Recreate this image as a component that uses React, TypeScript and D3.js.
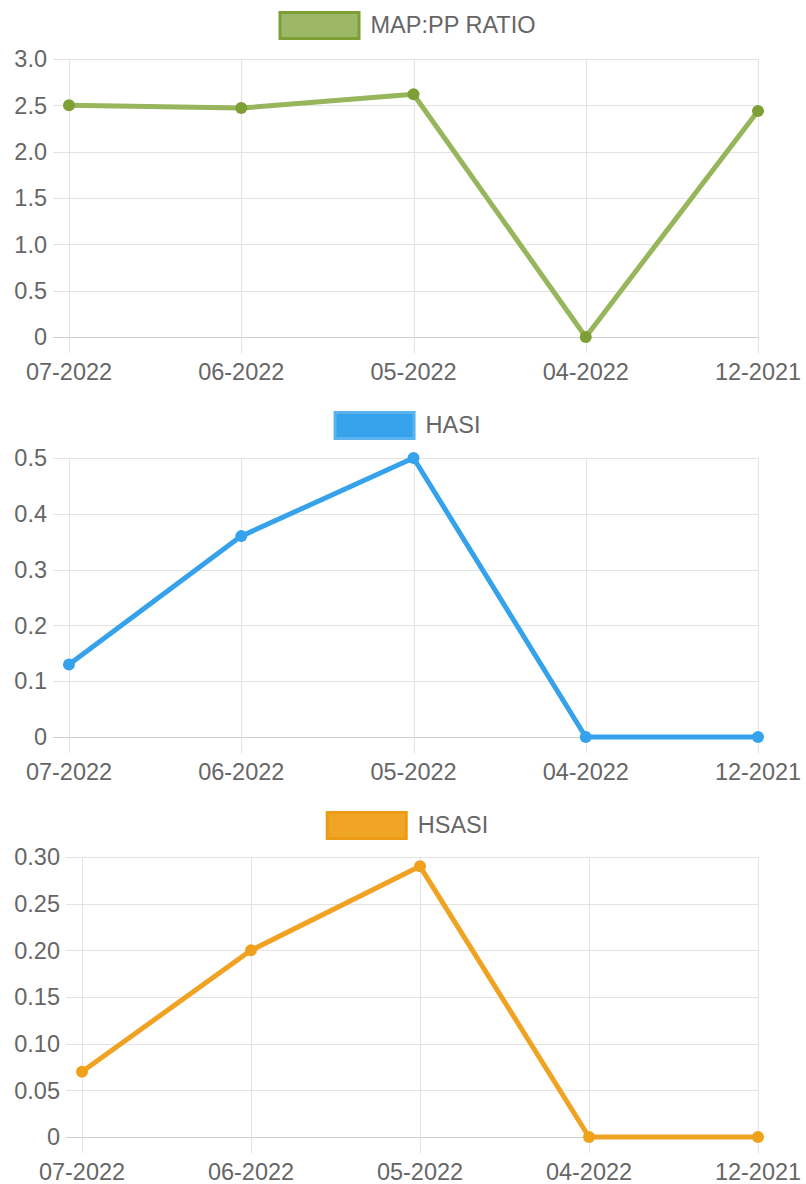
import React, { useEffect, useRef } from "react";
import * as d3 from "d3";

// chart data
const months = ["07-2022", "06-2022", "05-2022", "04-2022", "12-2021"];
const mapPpRatio = [2.5, 2.47, 2.62, 0, 2.44];
const hasi = [0.13, 0.36, 0.5, 0, 0];
const hsasi = [0.07, 0.2, 0.29, 0, 0];

const mapTicks = [0, 0.5, 1.0, 1.5, 2.0, 2.5, 3.0];
const hasiTicks = [0, 0.1, 0.2, 0.3, 0.4, 0.5];
const hsasiTicks = [0, 0.05, 0.1, 0.15, 0.2, 0.25, 0.3];

const W = 806;
const H = 1184;
const FONT = "'Liberation Sans', Arial, sans-serif";
const FS = 23.5;

function App() {
    const ref = useRef<SVGSVGElement | null>(null);

    useEffect(() => {
        const svg = d3.select(ref.current);
        svg.selectAll("*").remove();

        const panels = [
            {
                label: "MAP:PP RATIO", values: mapPpRatio, ticks: mapTicks, fmt: (v: number) => v === 0 ? "0" : v.toFixed(1),
                top: 0, plotTop: 59, plotBottom: 337, left: 69,
                line: "#97b55a", point: "#7d9f35", box: "#9cb866", boxStroke: "#7d9f35"
            },
            {
                label: "HASI", values: hasi, ticks: hasiTicks, fmt: (v: number) => v === 0 ? "0" : v.toFixed(1),
                top: 400, plotTop: 458, plotBottom: 737, left: 69,
                line: "#36a2eb", point: "#36a2eb", box: "#36a2eb", boxStroke: "#5ab3ef"
            },
            {
                label: "HSASI", values: hsasi, ticks: hsasiTicks, fmt: (v: number) => v === 0 ? "0" : v.toFixed(2),
                top: 800, plotTop: 857, plotBottom: 1137, left: 82,
                line: "#f0a323", point: "#f0a11c", box: "#f0a526", boxStroke: "#eb9b14"
            }
        ];

        const right = 758;

        panels.forEach(p => {
            const g = svg.append("g");

            const x = d3.scalePoint<string>()
                .domain(months)
                .range([p.left, right]);

            const y = d3.scaleLinear()
                .domain([0, p.ticks[p.ticks.length - 1]])
                .range([p.plotBottom, p.plotTop]);

            // horizontal grid
            g.selectAll(".hgrid")
                .data(p.ticks)
                .enter()
                .append("line")
                .attr("x1", p.left - 16)
                .attr("x2", right)
                .attr("y1", d => Math.round(y(d)) + 0.5)
                .attr("y2", d => Math.round(y(d)) + 0.5)
                .attr("stroke", d => d === 0 ? "#cfcfcf" : "#e3e3e3")
                .attr("stroke-width", 1);

            // vertical grid
            g.selectAll(".vgrid")
                .data(months)
                .enter()
                .append("line")
                .attr("x1", d => Math.round(x(d)!) + 0.5)
                .attr("x2", d => Math.round(x(d)!) + 0.5)
                .attr("y1", p.plotTop)
                .attr("y2", p.plotBottom + 16)
                .attr("stroke", "#e3e3e3")
                .attr("stroke-width", 1);

            // y labels
            g.selectAll(".ylab")
                .data(p.ticks)
                .enter()
                .append("text")
                .attr("x", p.left - 22)
                .attr("y", d => y(d))
                .attr("dy", "0.35em")
                .attr("text-anchor", "end")
                .attr("font-family", FONT)
                .attr("font-size", FS)
                .attr("fill", "#666")
                .text(d => p.fmt(d));

            // x labels
            g.selectAll(".xlab")
                .data(months)
                .enter()
                .append("text")
                .attr("x", d => x(d)!)
                .attr("y", p.plotBottom + 35)
                .attr("dy", "0.35em")
                .attr("text-anchor", "middle")
                .attr("font-family", FONT)
                .attr("font-size", FS)
                .attr("fill", "#666")
                .text(d => d);

            // line
            const line = d3.line<number>()
                .x((d, i) => x(months[i])!)
                .y(d => y(d));

            g.append("path")
                .datum(p.values)
                .attr("d", line)
                .attr("fill", "none")
                .attr("stroke", p.line)
                .attr("stroke-width", 5)
                .attr("stroke-linejoin", "round");

            g.selectAll(".pt")
                .data(p.values)
                .enter()
                .append("circle")
                .attr("cx", (d, i) => x(months[i])!)
                .attr("cy", d => y(d))
                .attr("r", 6)
                .attr("fill", p.point);

            // legend
            const legend = g.append("g");
            const txt = legend.append("text")
                .attr("y", p.top + 25)
                .attr("dy", "0.35em")
                .attr("font-family", FONT)
                .attr("font-size", FS)
                .attr("fill", "#666")
                .text(p.label);
            const tw = (txt.node() as SVGTextElement).getComputedTextLength();
            const total = 82 + 10 + tw;
            const start = 407 - total / 2;
            legend.append("rect")
                .attr("x", start + 1.5)
                .attr("y", p.top + 12.5)
                .attr("width", 79)
                .attr("height", 26)
                .attr("fill", p.box)
                .attr("stroke", p.boxStroke)
                .attr("stroke-width", 3);
            txt.attr("x", start + 92);
        });
    }, []);

    return (
        <svg ref={ref} width={W} height={H}
             style={{ position: "absolute", left: 0, top: 0, background: "#fff" }} />
    );
}

export default App;
